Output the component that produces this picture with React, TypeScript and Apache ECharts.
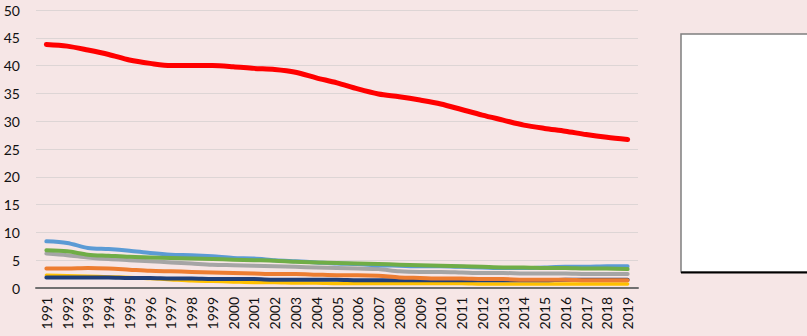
import React, { useEffect, useRef } from "react";
import * as echarts from "echarts";

const years = ["1991","1992","1993","1994","1995","1996","1997","1998","1999","2000","2001","2002","2003","2004","2005","2006","2007","2008","2009","2010","2011","2012","2013","2014","2015","2016","2017","2018","2019"];

const redSeries = [43.8,43.5,42.8,42.0,41.0,40.4,40.0,40.0,40.0,39.8,39.5,39.3,38.8,37.8,36.9,35.8,34.9,34.4,33.8,33.1,32.1,31.1,30.2,29.3,28.7,28.2,27.6,27.1,26.7];
const blueSeries = [8.4,8.1,7.2,7.0,6.7,6.3,6.0,5.9,5.7,5.4,5.3,5.0,4.8,4.6,4.4,4.3,4.1,4.0,3.9,3.9,3.8,3.7,3.6,3.6,3.7,3.8,3.8,3.9,3.9];
const greenSeries = [6.8,6.6,6.0,5.8,5.6,5.5,5.4,5.3,5.2,5.1,5.0,4.9,4.7,4.6,4.5,4.4,4.3,4.2,4.1,4.0,3.9,3.8,3.7,3.7,3.6,3.6,3.5,3.5,3.4];
const greySeries = [6.2,5.9,5.5,5.2,5.0,4.8,4.6,4.4,4.2,4.1,4.0,3.9,3.8,3.7,3.6,3.5,3.4,3.0,2.9,2.9,2.8,2.7,2.7,2.6,2.6,2.6,2.5,2.5,2.5];
const orangeSeries = [3.5,3.5,3.6,3.5,3.3,3.1,3.0,2.9,2.8,2.7,2.6,2.5,2.5,2.4,2.3,2.3,2.2,1.9,1.8,1.7,1.7,1.6,1.6,1.5,1.5,1.5,1.4,1.4,1.4];
const yellowSeries = [2.3,2.2,2.1,2.0,1.9,1.7,1.5,1.3,1.2,1.1,1.0,1.0,0.9,0.9,0.8,0.8,0.8,0.8,0.8,0.8,0.8,0.7,0.7,0.7,0.7,0.7,0.7,0.7,0.7];
const darkBlueSeries = [1.9,1.9,1.9,1.9,1.8,1.8,1.7,1.7,1.6,1.6,1.6,1.5,1.5,1.5,1.5,1.4,1.4,1.4,1.4,1.4,1.4,1.4,1.4,1.4,1.4,1.5,1.5,1.5,1.5];

const FONT = "Lato";

export default function App() {
  const ref = useRef<HTMLDivElement>(null);
  useEffect(() => {
    document.body.style.margin = "0";
    const chart = echarts.init(ref.current!, null, { renderer: "svg" });
    const mk = (name: string, data: number[], color: string, width: number, z: number) => ({
      name,
      type: "line",
      data,
      smooth: 0.3,
      symbol: "none",
      z,
      lineStyle: { color, width, cap: "round", join: "round" },
    });
    chart.setOption({
      animation: false,
      backgroundColor: "#F6E6E6",
      grid: { left: 36, right: 169, top: 10, bottom: 48 },
      xAxis: {
        type: "category",
        data: years,
        boundaryGap: true,
        axisLine: { lineStyle: { color: "#707070", width: 2 } },
        axisTick: { show: false },
        axisLabel: { rotate: 90, margin: 9, fontFamily: FONT, fontSize: 14, color: "#111", interval: 0 },
      },
      yAxis: {
        type: "value",
        min: 0,
        max: 50,
        interval: 5,
        axisLine: { show: false },
        axisTick: { show: false },
        splitLine: { lineStyle: { color: "#DDD5D5", width: 1 } },
        axisLabel: { margin: 16, fontFamily: FONT, fontSize: 14, color: "#111" },
      },
      series: [
        mk("yellow", yellowSeries, "#FFC000", 3.5, 2),
        mk("darkblue", darkBlueSeries, "#1F3F7A", 4, 3),
        mk("orange", orangeSeries, "#ED7D31", 4, 4),
        mk("grey", greySeries, "#A5A5A5", 4, 5),
        mk("blue", blueSeries, "#5B9BD5", 4, 6),
        mk("green", greenSeries, "#70AD47", 4, 7),
        mk("red", redSeries, "#FF0000", 5, 8),
      ],
      graphic: [
        {
          type: "rect",
          shape: { x: 681, y: 34, width: 140, height: 238 },
          style: { fill: "#FFFFFF", stroke: "#7F7F7F", lineWidth: 1.5 },
        },
        {
          type: "line",
          shape: { x1: 681, y1: 272.5, x2: 807, y2: 272.5 },
          style: { stroke: "#000000", lineWidth: 2 },
        },
      ],
    });
    return () => chart.dispose();
  }, []);
  return <div ref={ref} style={{ width: 807, height: 336 }} />;
}
